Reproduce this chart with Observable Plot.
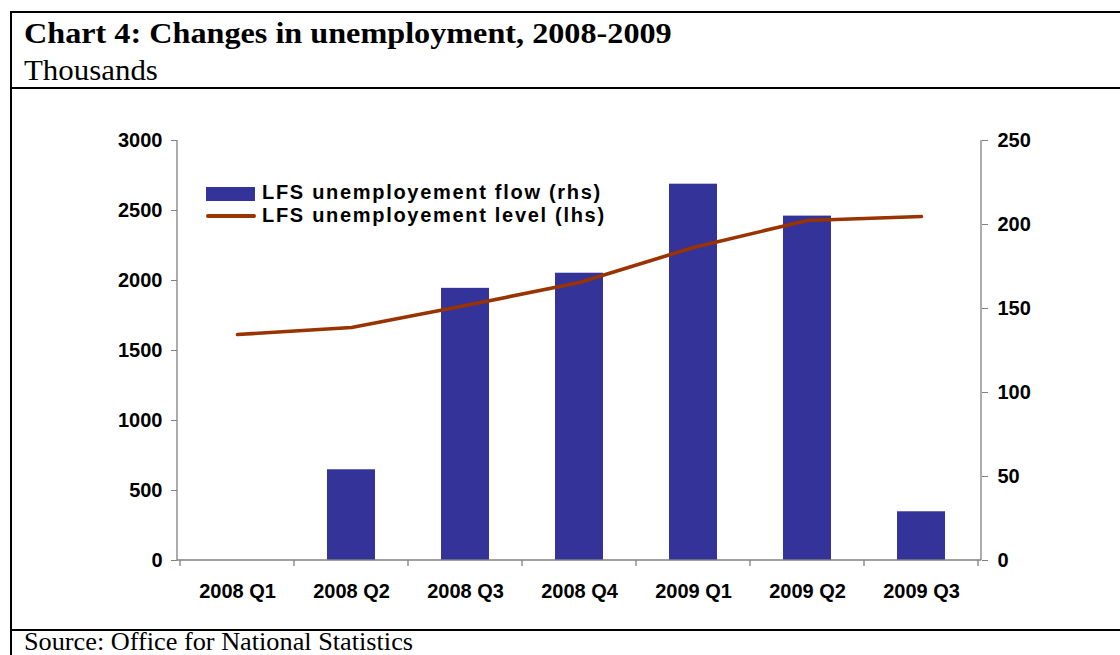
<!DOCTYPE html>
<html>
<head>
<meta charset="utf-8">
<script src="https://cdn.jsdelivr.net/npm/d3@7"></script>
<script src="https://cdn.jsdelivr.net/npm/@observablehq/plot@0.6"></script>
<style>
  html, body { margin: 0; padding: 0; background: #fff; }
  #wrap { position: relative; width: 1120px; height: 655px; overflow: hidden; background: #fff; }
  #chart { position: absolute; left: 0; top: 0; }
  .hl { position: absolute; background: #000; }
  .txt { position: absolute; white-space: nowrap; line-height: 1; transform-origin: 0 0; }
  .serif { font-family: "Liberation Serif", "Times New Roman", serif; color: #000; }
  .sans { font-family: "Liberation Sans", Arial, sans-serif; font-weight: bold; color: #000; }
</style>
</head>
<body>
<div id="wrap">
  <div id="chart"></div>
  <div class="hl" style="left:10px;top:11px;width:1110px;height:2.3px;"></div>
  <div class="hl" style="left:10px;top:87px;width:1110px;height:2.3px;"></div>
  <div class="hl" style="left:10px;top:629px;width:1110px;height:2.3px;"></div>
  <div class="hl" style="left:10px;top:11px;width:2.3px;height:644px;"></div>
  <div class="txt serif" id="title" style="left:24px;top:20px;font-size:28.5px;font-weight:bold;transform:scaleX(1.13);">Chart 4: Changes in unemployment, 2008-2009</div>
  <div class="txt serif" id="subtitle" style="left:24px;top:55px;font-size:30px;transform:scaleX(1.03);">Thousands</div>
  <div class="txt serif" id="source" style="left:24px;top:632px;font-size:25.5px;line-height:0.8;transform:scaleX(1.03);">Source: Office for National Statistics</div>
  <div id="legend"></div>
</div>
<script>
// ---- data ----
const categories = ["2008 Q1", "2008 Q2", "2008 Q3", "2008 Q4", "2009 Q1", "2009 Q2", "2009 Q3"];
const flowRhs = [null, 54, 162, 171, 224, 205, 29];          // LFS unemployement flow (rhs)
const levelLhs = [1614, 1664, 1821, 1986, 2236, 2429, 2457]; // LFS unemployement level (lhs)
const lhsTicks = [0, 500, 1000, 1500, 2000, 2500, 3000];
const rhsTicks = [0, 50, 100, 150, 200, 250];
const seriesNames = ["LFS unemployement flow (rhs)", "LFS unemployement level (lhs)"];

const barColor = "#333399";
const lineColor = "#993300";
const axisGray = "#808080";
const ratio = 3000 / 250; // rhs -> lhs

const data = categories.map((q, i) => ({q, flow: flowRhs[i], level: levelLhs[i]}));

function axisLines(...args) {
  const scales = args.find(a => a && typeof a.x === "function" && typeof a.y === "function");
  const dims = args.find(a => a && typeof a.width === "number" && typeof a.marginLeft === "number");
  const {x, y} = scales;
  const g = d3.create("svg:g").attr("stroke", axisGray).attr("stroke-width", 1.3).attr("fill", "none");
  const left = dims.marginLeft, right = dims.width - dims.marginRight;
  const y0 = y(0), yTop = y(3000);
  g.append("line").attr("x1", left).attr("x2", left).attr("y1", yTop).attr("y2", y0);
  g.append("line").attr("x1", right).attr("x2", right).attr("y1", yTop).attr("y2", y0);
  g.append("line").attr("x1", left).attr("x2", right).attr("y1", y0).attr("y2", y0);
  const bw = x.bandwidth();
  const bounds = categories.map(c => x(c)).concat([x(categories[categories.length - 1]) + bw]);
  for (const b of bounds) g.append("line").attr("x1", b).attr("x2", b).attr("y1", y0).attr("y2", y0 + 6);
  return g.node();
}

const plot = Plot.plot({
  width: 1120,
  height: 655,
  marginTop: 140,
  marginRight: 139,
  marginBottom: 95,
  marginLeft: 177,
  style: {background: "transparent", fontFamily: "'Liberation Sans', Arial, sans-serif", fontSize: "20px", fontWeight: "bold", color: "#000", overflow: "visible"},
  x: {type: "band", domain: categories, padding: 0},
  y: {domain: [0, 3000]},
  marks: [
    Plot.barY(data, {x: "q", y: d => d.flow == null ? null : d.flow * ratio, fill: barColor, insetLeft: 33, insetRight: 33}),
    Plot.line(data, {x: "q", y: "level", stroke: lineColor, strokeWidth: 3.6, strokeLinejoin: "round", strokeLinecap: "round"}),
    axisLines,
    Plot.axisY({anchor: "left", ticks: lhsTicks, tickFormat: d => String(d), tickSize: 6, tickPadding: 9, stroke: axisGray, fill: "#000", label: null, style: {letterSpacing: "1.2px"}}),
    Plot.axisY({anchor: "right", ticks: rhsTicks.map(v => v * ratio), tickFormat: d => String(Math.round(d / ratio)), tickSize: 6, tickPadding: 10, stroke: axisGray, fill: "#000", label: null, style: {letterSpacing: "1.2px"}}),
    Plot.axisX({anchor: "bottom", tickSize: 0, tickPadding: 23, fill: "#000", label: null, style: {letterSpacing: "0.2px"}})
  ]
});
document.getElementById("chart").appendChild(plot);

// legend
const legend = document.getElementById("legend");
legend.innerHTML = `
  <div style="position:absolute;left:206px;top:187px;width:49px;height:14px;background:${barColor}"></div>
  <div style="position:absolute;left:206px;top:214.3px;width:50px;height:4px;border-radius:2px;background:${lineColor}"></div>
  <div class="txt sans" style="left:262px;top:182px;font-size:20px;letter-spacing:1.7px;">${seriesNames[0]}</div>
  <div class="txt sans" style="left:262px;top:205px;font-size:20px;letter-spacing:1.7px;">${seriesNames[1]}</div>
`;
</script>
</body>
</html>
